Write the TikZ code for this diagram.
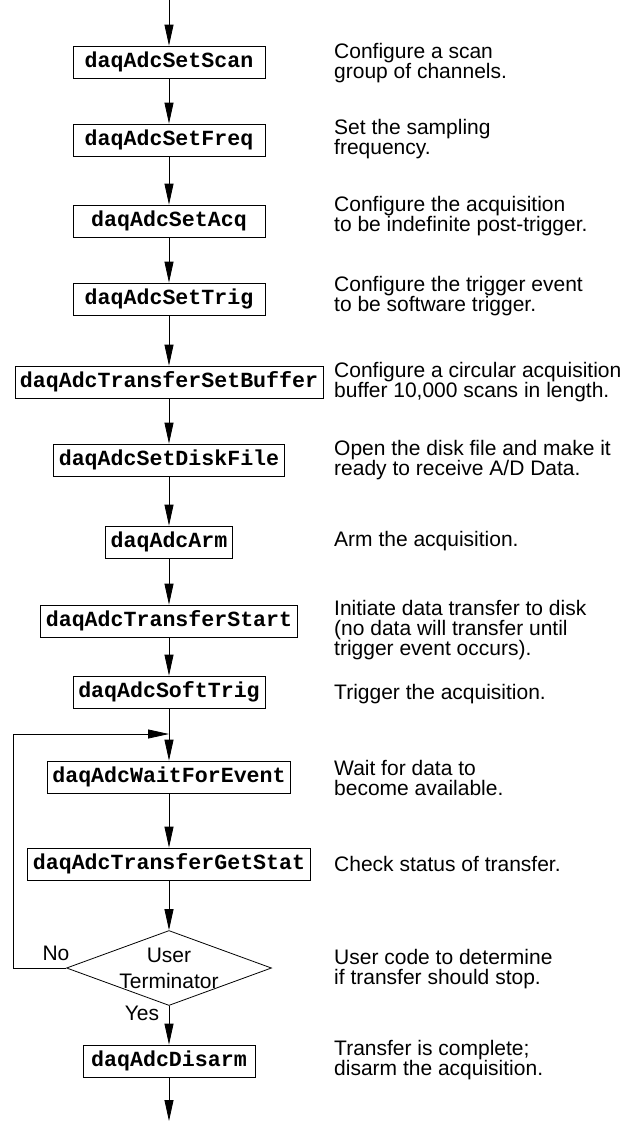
\documentclass[tikz,border=0pt]{standalone}
\usepackage{fontspec}
\setmainfont{Liberation Sans}
\setmonofont{Liberation Mono}
\usepackage{tikz}
\usetikzlibrary{
  arrows.meta,
  positioning,
  shapes.geometric
}
\newcommand{\descfont}{\fontsize{21}{20}\selectfont}
\newcommand{\callfont}{\fontsize{21.6}{24}\selectfont\ttfamily\bfseries}

\begin{document}
\begin{tikzpicture}[x=1pt, y=-1pt,
  call/.style={draw, line width=0.8pt, fill=white, font=\callfont,
    minimum height=32pt, inner xsep=5pt, inner ysep=0pt},
  decision/.style={draw, line width=0.8pt, diamond, aspect=2.73,
    minimum width=205pt, minimum height=75pt, inner sep=0pt},
  desc/.style={anchor=west, align=left, font=\descfont, inner sep=0pt},
  flow/.style={line width=0.8pt, -{Triangle[length=21pt, width=9pt]}}]
  \useasboundingbox (0,0) rectangle (640,1122);
  \def\X{169}
  \def\T{334}

  % Library calls down the main line
  \foreach \name/\y/\w/\txt in {
      scan/62/192/daqAdcSetScan,
      freq/140/192/daqAdcSetFreq,
      acq/221/192/daqAdcSetAcq,
      trig/299/192/daqAdcSetTrig,
      buffer/382/0/daqAdcTransferSetBuffer,
      disk/460/0/daqAdcSetDiskFile,
      arm/542/0/daqAdcArm,
      start/621/0/daqAdcTransferStart,
      soft/692/192/daqAdcSoftTrig,
      wait/777/0/daqAdcWaitForEvent,
      stat/864/0/daqAdcTransferGetStat,
      disarm/1061/172/daqAdcDisarm}
    \node[call, minimum width=\w pt] (\name) at (\X,\y) {\txt};

  % Decision
  \node[decision, label={[font=\fontsize{21}{26}\selectfont, align=center,
      inner sep=0pt]center:User\\Terminator}] (term) at (\X,968) {};
  \node[font=\descfont, inner sep=0pt] (no) at (56,953) {No};
  \node[font=\descfont, inner sep=0pt] (yes) at (142,1013) {Yes};

  % Descriptions
  \foreach \name/\y/\txt in {
      scan/63/{Configure a scan\\group of channels.},
      freq/139/{Set the sampling\\frequency.},
      acq/216/{Configure the acquisition\\to be indefinite post-trigger.},
      trig/296/{Configure the trigger event\\to be software trigger.},
      buffer/382/{Configure a circular acquisition\\buffer 10,000 scans in length.},
      disk/460/{Open the disk file and make it\\ready to receive A/D Data.},
      arm/541/{Arm the acquisition.},
      start/630/{Initiate data transfer to disk\\(no data will transfer until\\trigger event occurs).},
      soft/694/{Trigger the acquisition.},
      wait/778/{Wait for data to\\become available.},
      stat/864/{Check status of transfer.},
      term/969/{User code to determine\\if transfer should stop.},
      disarm/1060/{Transfer is complete;\\disarm the acquisition.}}
    \node[desc] (d\name) at (\T,\y) {\txt};

  % Connectors
  \coordinate (top) at (\X,0);
  \coordinate (bot) at (\X,1121);
  \coordinate (merge) at (\X,734);
  \draw[flow] (top) -- (scan);
  \foreach \a/\b in {scan/freq, freq/acq, acq/trig, trig/buffer,
      buffer/disk, disk/arm, arm/start, start/soft, soft/wait,
      wait/stat, stat/term, term/disarm}
    \draw[flow] (\a) -- (\b);
  \draw[flow] (disarm) -- (bot);

  % Loop back on No
  \draw[flow] (term.west) -- ++(-52.5,0) |- (merge);
\end{tikzpicture}
\end{document}
